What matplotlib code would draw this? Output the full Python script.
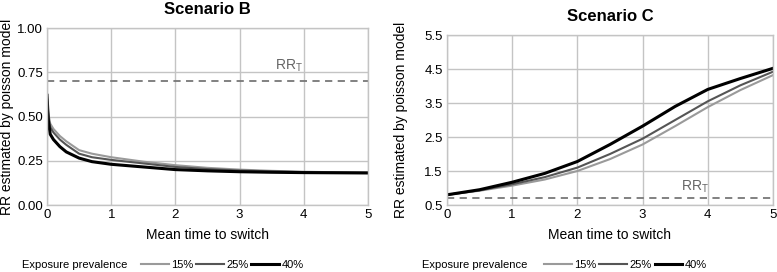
"""
RR estimated by poisson model vs mean time to switch, scenarios B and C
"""
import matplotlib
matplotlib.use('Agg')
import matplotlib.pyplot as plt

plt.rcParams['font.family'] = ['Liberation Sans', 'DejaVu Sans']

prev_labels = ['15%', '25%', '40%']
line_colors = ['#9a9a9a', '#555555', '#000000']
line_widths = [1.5, 1.5, 2.2]

rr_t = 0.7

# Scenario B
xb = [0, 0.02, 0.05, 0.1, 0.2, 0.3, 0.5, 0.7, 1.0, 1.5, 2.0, 2.5, 3.0, 3.5, 4.0, 4.5, 5.0]
b15 = [0.60, 0.52, 0.46, 0.43, 0.39, 0.36, 0.31, 0.29, 0.27, 0.245, 0.225, 0.21, 0.20, 0.193, 0.188, 0.185, 0.183]
b25 = [0.61, 0.50, 0.44, 0.41, 0.37, 0.34, 0.29, 0.27, 0.255, 0.235, 0.215, 0.203, 0.195, 0.19, 0.186, 0.184, 0.182]
b40 = [0.62, 0.48, 0.40, 0.37, 0.33, 0.30, 0.265, 0.245, 0.23, 0.215, 0.20, 0.193, 0.188, 0.185, 0.183, 0.182, 0.181]

# Scenario C
xc = [0, 0.5, 1, 1.5, 2, 2.5, 3, 3.5, 4, 4.5, 5]
c15 = [0.80, 0.92, 1.07, 1.25, 1.50, 1.85, 2.28, 2.82, 3.38, 3.88, 4.32]
c25 = [0.80, 0.93, 1.11, 1.32, 1.60, 2.00, 2.45, 3.00, 3.55, 4.02, 4.42]
c40 = [0.80, 0.95, 1.17, 1.43, 1.78, 2.28, 2.82, 3.40, 3.90, 4.22, 4.52]

b_ticks = [0.00, 0.25, 0.50, 0.75, 1.00]
c_ticks = [0.5, 1.5, 2.5, 3.5, 4.5, 5.5]

fig = plt.figure(figsize=(7.77, 2.72), dpi=100)
axB = fig.add_axes([0.0605, 0.2463, 0.4131, 0.6507])
axC = fig.add_axes([0.5753, 0.2463, 0.4195, 0.6250])

grid_col = '#c4c4c4'


def style(ax, yticks, fmt, ylab_x):
    ax.set_xlim(0, 5)
    ax.set_ylim(yticks[0], yticks[-1])
    ax.set_xticks(range(6))
    ax.set_yticks(yticks)
    ax.set_yticklabels([fmt.format(t) for t in yticks])
    ax.grid(True, color=grid_col, linewidth=1.0)
    ax.set_axisbelow(True)
    for s in ax.spines.values():
        s.set_color(grid_col)
        s.set_linewidth(1.0)
    ax.tick_params(length=0, labelsize=9.5, pad=3)
    ax.set_xlabel('Mean time to switch', fontsize=10, labelpad=5)
    ax.set_ylabel('RR estimated by poisson model', fontsize=10)
    ax.yaxis.set_label_coords(ylab_x, 0.5)


series_b = [b15, b25, b40]
series_c = [c15, c25, c40]

for ax, x, series in [(axB, xb, series_b), (axC, xc, series_c)]:
    for ys, lab, col, lw in zip(series, prev_labels, line_colors, line_widths):
        ax.plot(x, ys, color=col, linewidth=lw, label=lab)
    ax.axhline(rr_t, color='#777777', linestyle=(0, (4, 3)), linewidth=1.3)

style(axB, b_ticks, '{:.2f}', -0.104)
style(axC, c_ticks, '{:.1f}', -0.12)

axB.set_title('Scenario B', fontsize=12, fontweight='bold', pad=10)
axC.set_title('Scenario C', fontsize=12, fontweight='bold', pad=10)

axB.text(3.77, 0.765, r'RR$_\mathregular{T}$', color='#666666', fontsize=10, ha='center')
axC.text(3.8, 0.93, r'RR$_\mathregular{T}$', color='#666666', fontsize=10, ha='center')

# legends
for ax, tx, lx in [(axB, 0.028, 0.176), (axC, 0.543, 0.695)]:
    fig.text(tx, 0.025, 'Exposure prevalence', fontsize=8, va='center')
    h, l = ax.get_legend_handles_labels()
    fig.legend(h, l, loc='center left', bbox_to_anchor=(lx, 0.025), ncol=3, frameon=False,
               fontsize=8, handlelength=2.5, handletextpad=0.2, columnspacing=0.25,
               borderaxespad=0)

fig.savefig('out.png', dpi=100)
